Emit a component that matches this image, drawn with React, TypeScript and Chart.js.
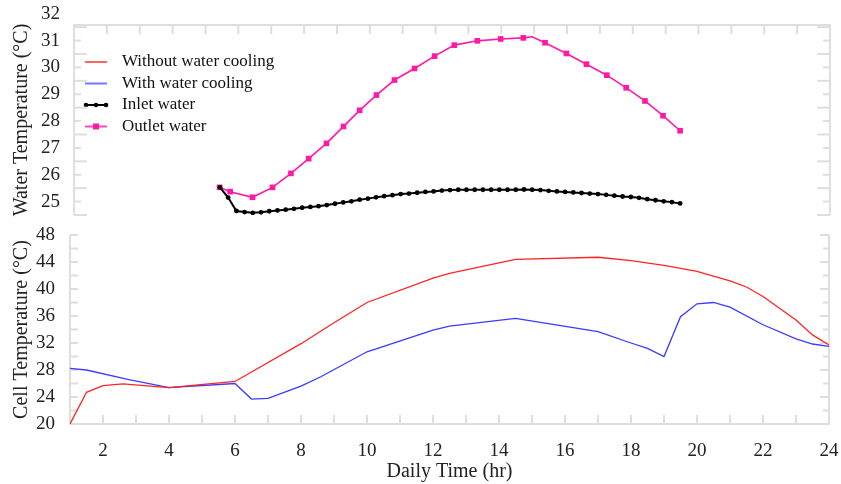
import React, { useEffect, useRef } from 'react';
import { Chart, registerables } from 'chart.js';

Chart.register(...registerables);

const FONT = "'Liberation Serif', 'Times New Roman', serif";
const TXT = '#222';
const FRAME = '#dedede';
const RED = '#ff2424';
const BLUE = '#3b3bff';
const BLACK = '#000000';
const MAGENTA = '#ff1aa6';
const CLEAR = 'rgba(0,0,0,0)';

// ---- Data ----
// Cell temperature, without water cooling
const hoursNoCooling = [1, 1.5, 2, 2.6, 4, 6, 8, 9, 10, 12, 12.5, 14.5, 17, 18, 19, 20, 21, 21.5, 22, 23, 23.5, 24];
const tempNoCooling = [20, 24.7, 25.7, 25.95, 25.4, 26.3, 31.9, 35.0, 38.0, 41.6, 42.3, 44.4, 44.7, 44.2, 43.5, 42.6, 41.2, 40.3, 38.9, 35.4, 33.2, 31.7];

// Cell temperature, with water cooling
const hoursCooling = [1, 1.5, 2.75, 4, 6, 6.5, 7, 8, 8.6, 10, 12, 12.5, 14.5, 17, 18, 18.5, 19, 19.5, 20, 20.5, 21, 22, 23, 23.5, 24];
const tempCooling = [28.25, 28.0, 26.6, 25.4, 26.0, 23.7, 23.8, 25.6, 27.0, 30.7, 33.9, 34.5, 35.65, 33.7, 32.0, 31.2, 30.0, 35.9, 37.8, 38.0, 37.3, 34.7, 32.6, 31.85, 31.5];

// Inlet water temperature
const inletTime = [5.44, 5.69, 5.94, 6.19, 6.44, 6.69, 6.94, 7.19, 7.44, 7.69, 7.94, 8.19, 8.44, 8.69, 8.94, 9.19, 9.44, 9.69, 9.94, 10.19, 10.44, 10.69, 10.94, 11.19, 11.44, 11.69, 11.94, 12.19, 12.44, 12.69, 12.94, 13.19, 13.44, 13.69, 13.94, 14.19, 14.44, 14.69, 14.94, 15.19, 15.44, 15.69, 15.94, 16.19, 16.44, 16.69, 16.94, 17.19, 17.44, 17.69, 17.94, 18.19, 18.44, 18.69, 18.94, 19.19, 19.44];
const inletTemp = [25.53, 25.15, 24.65, 24.61, 24.58, 24.6, 24.64, 24.67, 24.7, 24.73, 24.77, 24.8, 24.83, 24.87, 24.92, 24.97, 25.01, 25.07, 25.11, 25.16, 25.2, 25.24, 25.28, 25.3, 25.33, 25.36, 25.38, 25.41, 25.43, 25.44, 25.44, 25.44, 25.44, 25.44, 25.44, 25.44, 25.44, 25.45, 25.44, 25.43, 25.4, 25.38, 25.36, 25.34, 25.32, 25.3, 25.28, 25.25, 25.22, 25.19, 25.17, 25.14, 25.09, 25.05, 25.01, 24.98, 24.93];

// Outlet water temperature
const outletTime = [5.43, 5.75, 6.43, 7.04, 7.6, 8.14, 8.68, 9.2, 9.69, 10.2, 10.75, 11.36, 11.97, 12.57, 13.27, 13.98, 14.67, 14.94, 15.33, 15.98, 16.59, 17.21, 17.8, 18.37, 18.92, 19.44];
const outletTemp = [25.53, 25.37, 25.16, 25.53, 26.05, 26.6, 27.17, 27.8, 28.4, 28.97, 29.53, 29.96, 30.42, 30.83, 30.99, 31.06, 31.1, 31.14, 30.92, 30.52, 30.12, 29.71, 29.24, 28.75, 28.2, 27.64];
const outletMarked = [1, 1, 1, 1, 1, 1, 1, 1, 1, 1, 1, 1, 1, 1, 1, 1, 1, 0, 1, 1, 1, 1, 1, 1, 1, 1];

// Tick labels
const waterTicks = [25, 26, 27, 28, 29, 30, 31, 32];
const cellTicks = [20, 24, 28, 32, 36, 40, 44, 48];
const hourTicks = [2, 4, 6, 8, 10, 12, 14, 16, 18, 20, 22, 24];
const seriesNames = ['Without water cooling', 'With water cooling', 'Inlet water', 'Outlet water'];

function toPoints(xs: number[], ys: number[]) {
  return xs.map((x, i) => ({ x, y: ys[i] }));
}

function makeMarker(kind: number): HTMLCanvasElement {
  const c = document.createElement('canvas');
  c.width = 26;
  c.height = 10;
  const g = c.getContext('2d')!;
  const colors = [RED, BLUE, BLACK, MAGENTA];
  const widths = [1.4, 1.4, 2, 1.6];
  g.strokeStyle = colors[kind];
  g.lineWidth = widths[kind];
  g.beginPath();
  g.moveTo(2, 5);
  g.lineTo(24, 5);
  g.stroke();
  g.fillStyle = colors[kind];
  if (kind === 2) {
    [3, 13, 23].forEach((cx) => {
      g.beginPath();
      g.arc(cx, 5, 2.3, 0, Math.PI * 2);
      g.fill();
    });
  }
  if (kind === 3) {
    g.fillRect(10, 2, 6, 6);
  }
  return c;
}

function framePlugin(kind: 'top' | 'bottom') {
  return {
    id: 'frame_' + kind,
    beforeDatasetsDraw(chart: any) {
      const { ctx, chartArea: a, scales } = chart;
      const xs = scales.x;
      const ys = scales.y;
      ctx.save();
      ctx.strokeStyle = FRAME;
      ctx.lineWidth = 2;
      const seg = (x1: number, y1: number, x2: number, y2: number) => {
        ctx.beginPath();
        ctx.moveTo(x1, y1);
        ctx.lineTo(x2, y2);
        ctx.stroke();
      };
      if (kind === 'top') {
        seg(a.left - 1, a.top, a.right + 1, a.top);
        seg(a.left, a.top, a.left, a.bottom);
        seg(a.right, a.top, a.right, a.bottom);
        for (let h = 2; h <= 23; h++) {
          const x = xs.getPixelForValue(h);
          seg(x, a.top, x, a.top + 9);
        }
        for (let k = 0; k <= 14; k++) {
          const v = 24.5 + k * 0.5;
          const y = ys.getPixelForValue(v);
          if (y < a.top + 2) continue;
          const len = Number.isInteger(v) ? 7 : 13;
          seg(a.left, y, a.left + len, y);
          seg(a.right, y, a.right - len, y);
        }
      } else {
        seg(a.left, a.top, a.left, a.bottom + 1);
        seg(a.left, a.bottom, a.right + 1, a.bottom);
        seg(a.right, a.top, a.right, a.bottom);
        for (let v = 20; v <= 48; v += 2) {
          const y = ys.getPixelForValue(v);
          seg(a.left, y, a.left + 8, y);
          seg(a.right, y, a.right - (v % 4 === 0 ? 9 : 6), y);
        }
        for (let h = 2; h <= 23; h++) {
          const x = xs.getPixelForValue(h);
          seg(x, a.bottom, x, a.bottom - 9);
        }
      }
      ctx.restore();
    },
  };
}

export default function App() {
  const topRef = useRef<HTMLCanvasElement>(null);
  const botRef = useRef<HTMLCanvasElement>(null);

  useEffect(() => {
    document.body.style.margin = '0';
    const markers = [0, 1, 2, 3].map(makeMarker);

    const topChart = new Chart(topRef.current!, {
      type: 'line',
      data: {
        datasets: [
          {
            label: 'Inlet water',
            data: toPoints(inletTime, inletTemp),
            borderColor: BLACK,
            backgroundColor: BLACK,
            borderWidth: 2,
            pointStyle: 'circle',
            pointRadius: 2.4,
            pointBorderWidth: 0,
            pointBackgroundColor: BLACK,
          },
          {
            label: 'Outlet water',
            data: toPoints(outletTime, outletTemp),
            borderColor: MAGENTA,
            backgroundColor: MAGENTA,
            borderWidth: 1.6,
            pointStyle: 'rect',
            pointRadius: (c: any) => (outletMarked[c.dataIndex] ? 4 : 0),
            pointBorderWidth: 0,
            pointBackgroundColor: MAGENTA,
          },
        ],
      },
      options: {
        responsive: false,
        animation: false,
        devicePixelRatio: 1,
        layout: { padding: { top: 25, bottom: 15, left: 0, right: 11 } },
        scales: {
          x: { type: 'linear', display: false, min: 1, max: 24 },
          y: {
            type: 'linear',
            min: 24.5,
            max: 31.58,
            afterBuildTicks: (s: any) => {
              s.ticks = waterTicks.map((v) => ({ value: v }));
            },
            afterFit: (s: any) => {
              s.width = 74;
            },
            grid: { display: true, drawOnChartArea: false, drawTicks: true, tickLength: 11, tickColor: CLEAR, color: CLEAR },
            border: { display: false },
            ticks: { autoSkip: false, padding: 3, color: TXT, font: { family: FONT, size: 19 } },
            title: {
              display: true,
              text: 'Water Temperature (°C)',
              color: TXT,
              font: { family: FONT, size: 20 },
              padding: { top: 10, bottom: 0 },
            },
          },
        },
        plugins: {
          tooltip: { enabled: false },
          legend: {
            position: 'chartArea',
            align: 'start',
            title: { display: true, text: '', font: { size: 1 }, padding: { top: 47.8, bottom: 0 } },
            labels: {
              usePointStyle: true,
              pointStyleWidth: 35,
              padding: 4.5,
              color: '#111',
              font: { family: FONT, size: 17 },
              generateLabels: () =>
                seriesNames.map((name, i) => ({
                  text: name,
                  pointStyle: markers[i],
                  fillStyle: CLEAR,
                  strokeStyle: CLEAR,
                  lineWidth: 0,
                  hidden: false,
                  fontColor: '#111',
                })),
            },
          },
        },
      } as any,
      plugins: [framePlugin('top')],
    });

    const botChart = new Chart(botRef.current!, {
      type: 'line',
      data: {
        datasets: [
          {
            label: 'Without water cooling',
            data: toPoints(hoursNoCooling, tempNoCooling),
            borderColor: RED,
            borderWidth: 1.3,
            pointRadius: 0,
          },
          {
            label: 'With water cooling',
            data: toPoints(hoursCooling, tempCooling),
            borderColor: BLUE,
            borderWidth: 1.3,
            pointRadius: 0,
          },
        ],
      },
      options: {
        responsive: false,
        animation: false,
        devicePixelRatio: 1,
        layout: { padding: { top: 15, bottom: 0, left: 0, right: 12 } },
        scales: {
          x: {
            type: 'linear',
            min: 1,
            max: 24,
            afterBuildTicks: (s: any) => {
              s.ticks = hourTicks.map((v) => ({ value: v }));
            },
            afterFit: (s: any) => {
              s.height = 60;
            },
            grid: { display: true, drawOnChartArea: false, drawTicks: true, tickLength: 16, tickColor: CLEAR, color: CLEAR },
            border: { display: false },
            ticks: { autoSkip: false, maxRotation: 0, padding: 0, color: TXT, font: { family: FONT, size: 19 } },
            title: {
              display: true,
              text: 'Daily Time (hr)',
              color: TXT,
              font: { family: FONT, size: 20 },
              padding: { top: 0, bottom: 0 },
            },
          },
          y: {
            type: 'linear',
            min: 20,
            max: 48,
            afterBuildTicks: (s: any) => {
              s.ticks = cellTicks.map((v) => ({ value: v }));
            },
            afterFit: (s: any) => {
              s.width = 70;
            },
            grid: { display: true, drawOnChartArea: false, drawTicks: true, tickLength: 12, tickColor: CLEAR, color: CLEAR },
            border: { display: false },
            ticks: { autoSkip: false, padding: 3, color: TXT, font: { family: FONT, size: 19 } },
            title: {
              display: true,
              text: 'Cell Temperature (°C)',
              color: TXT,
              font: { family: FONT, size: 20 },
              padding: { top: 10, bottom: 0 },
            },
          },
        },
        plugins: {
          tooltip: { enabled: false },
          legend: { display: false },
        },
      } as any,
      plugins: [framePlugin('bottom')],
    });

    return () => {
      topChart.destroy();
      botChart.destroy();
    };
  }, []);

  return (
    <div style={{ position: 'relative', width: 841, height: 484, background: '#ffffff' }}>
      <canvas ref={botRef} width={841} height={264} style={{ position: 'absolute', left: 0, top: 220 }} />
      <canvas ref={topRef} width={841} height={230} style={{ position: 'absolute', left: 0, top: 0 }} />
    </div>
  );
}
